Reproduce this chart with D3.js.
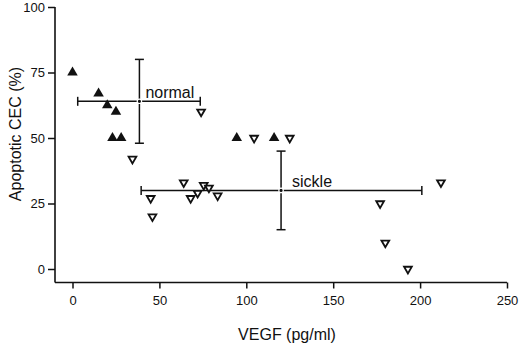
<!DOCTYPE html>
<html>
<head>
<meta charset="utf-8">
<script src="https://cdn.jsdelivr.net/npm/d3@7"></script>
<style>
  body { margin: 0; background: #fff; }
  text { font-family: "Liberation Sans", Arial, Helvetica, sans-serif; fill: #111; }
</style>
</head>
<body>
<div id="chart"></div>
<script>
// data
const normalVEGF = [0, 15, 20, 25, 23, 28, 94.5, 116];
const normalCEC  = [75, 67, 62.5, 60, 50, 50, 50, 50];

const sickleVEGF = [74, 104.5, 125, 34.5, 64, 45, 46, 68, 72, 75.5, 78.5, 83.5, 212, 177, 180, 193];
const sickleCEC  = [60, 50, 50, 42, 33, 27, 20, 27, 29, 32, 31, 28, 33, 25, 10, 0];

// group means with ranges (horizontal / vertical bars)
const groupNames = ["normal", "sickle"];
const meanVEGF = [38.5, 120];
const rangeVEGF = [[3, 73.5], [39.5, 201]];
const meanCEC = [64, 30];
const rangeCEC = [[48, 80], [15, 45]];

const xTicks = [0, 50, 100, 150, 200, 250];
const yTicks = [0, 25, 50, 75, 100];

// set the dimensions
const width = 520, height = 345;
const margin = {top: 7, right: 13, left: 55, bottom: 62};

const svg = d3.select("#chart")
    .append("svg")
    .attr("width", width)
    .attr("height", height);

const x = d3.scaleLinear()
    .domain([0, 250])
    .range([72.5, width - margin.right]);
const y = d3.scaleLinear()
    .domain([0, 100])
    .range([269, margin.top]);

const axisY = 282.5;

// x axis
const gx = svg.append("g")
    .attr("transform", `translate(0, ${axisY})`)
    .call(d3.axisBottom(x).tickValues(xTicks).tickSize(6).tickPadding(7));
gx.select(".domain").remove();
gx.append("line")
    .attr("x1", margin.left).attr("x2", x(250))
    .attr("stroke", "#111").attr("stroke-width", 1.6);
gx.selectAll(".tick line").attr("stroke", "#111").attr("stroke-width", 1.5);
gx.selectAll(".tick text")
    .style("font-size", "13px")
    .style("font-family", "Liberation Sans, Arial, sans-serif")
    .attr("fill", "#111");

// y axis
const gy = svg.append("g")
    .attr("transform", `translate(${margin.left}, 0)`)
    .call(d3.axisLeft(y).tickValues(yTicks).tickSize(7).tickPadding(3));
gy.select(".domain").remove();
gy.append("line")
    .attr("y1", y(100)).attr("y2", axisY)
    .attr("stroke", "#111").attr("stroke-width", 1.6);
gy.selectAll(".tick line").attr("stroke", "#111").attr("stroke-width", 1.5);
gy.selectAll(".tick text")
    .style("font-size", "13px")
    .style("font-family", "Liberation Sans, Arial, sans-serif")
    .attr("fill", "#111");

// axis titles
svg.append("text")
    .attr("x", 287)
    .attr("y", 340)
    .attr("text-anchor", "middle")
    .style("font-size", "16px")
    .text("VEGF (pg/ml)");

svg.append("text")
    .attr("transform", "translate(21, 134) rotate(-90)")
    .attr("text-anchor", "middle")
    .style("font-size", "16px")
    .text("Apoptotic CEC (%)");

// error bars
const cap = 4.5;
const bars = svg.append("g")
    .attr("stroke", "#111")
    .attr("stroke-width", 1.5)
    .attr("fill", "none");
groupNames.forEach(function(name, i) {
    const cx = x(meanVEGF[i]), cy = y(meanCEC[i]);
    const x0 = x(rangeVEGF[i][0]), x1 = x(rangeVEGF[i][1]);
    const y0 = y(rangeCEC[i][0]), y1 = y(rangeCEC[i][1]);
    bars.append("line").attr("x1", x0).attr("x2", x1).attr("y1", cy).attr("y2", cy);
    bars.append("line").attr("x1", x0).attr("x2", x0).attr("y1", cy - cap).attr("y2", cy + cap);
    bars.append("line").attr("x1", x1).attr("x2", x1).attr("y1", cy - cap).attr("y2", cy + cap);
    bars.append("line").attr("x1", cx).attr("x2", cx).attr("y1", y0).attr("y2", y1);
    bars.append("line").attr("x1", cx - cap).attr("x2", cx + cap).attr("y1", y0).attr("y2", y0);
    bars.append("line").attr("x1", cx - cap).attr("x2", cx + cap).attr("y1", y1).attr("y2", y1);
    svg.append("circle")
        .attr("cx", cx).attr("cy", cy).attr("r", 2.2)
        .attr("fill", "#111").attr("stroke", "#fff").attr("stroke-width", 1.2);
});

// group labels
svg.append("text")
    .attr("x", x(meanVEGF[0]) + 6)
    .attr("y", y(meanCEC[0]) - 3)
    .style("font-size", "16px")
    .text(groupNames[0]);
svg.append("text")
    .attr("x", x(meanVEGF[1]) + 11)
    .attr("y", y(meanCEC[1]) - 3)
    .style("font-size", "16px")
    .text(groupNames[1]);

// normal: filled up triangles
svg.append("g").selectAll("path")
    .data(normalVEGF.map((v, i) => [v, normalCEC[i]]))
    .join("path")
    .attr("transform", d => `translate(${x(d[0])}, ${y(d[1])})`)
    .attr("d", d3.symbol(d3.symbolTriangle, 48))
    .attr("fill", "#111");

// sickle: open down triangles
svg.append("g").selectAll("path")
    .data(sickleVEGF.map((v, i) => [v, sickleCEC[i]]))
    .join("path")
    .attr("transform", d => `translate(${x(d[0])}, ${y(d[1])}) rotate(180)`)
    .attr("d", d3.symbol(d3.symbolTriangle, 26))
    .attr("fill", "#fff")
    .attr("stroke", "#111")
    .attr("stroke-width", 1.8);
</script>
</body>
</html>
